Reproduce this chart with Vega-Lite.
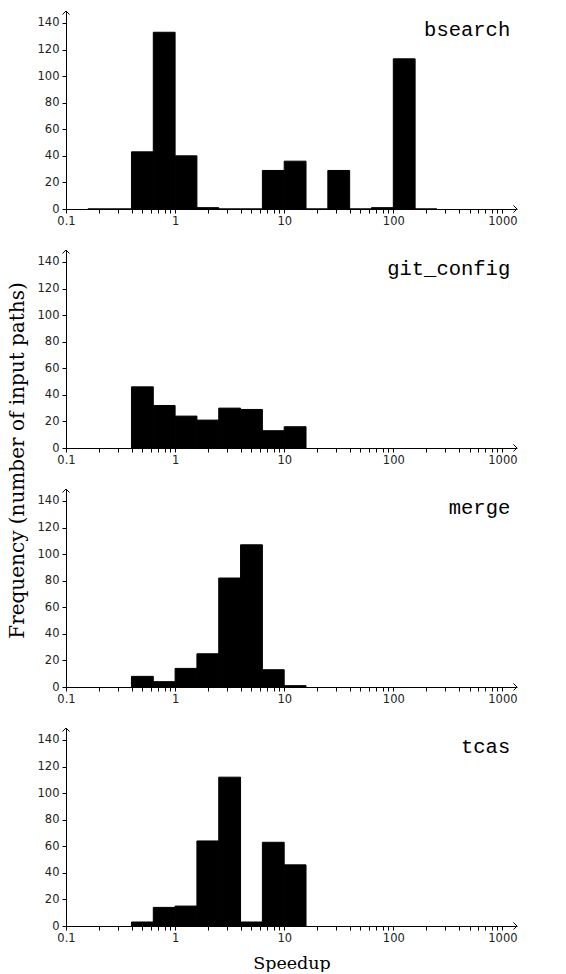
{
  "$schema": "https://vega.github.io/schema/vega-lite/v6.json",
  "padding": {"left": 8, "top": 9, "right": 0, "bottom": 0},
  "background": "white",
  "title": {"text": "Frequency (number of input paths)", "orient": "left", "anchor": "middle", "font": "DejaVu Serif", "fontSize": 20, "fontWeight": "normal", "color": "black", "offset": 9, "dx": 30},
  "datasets": {
    "hist": [
      {"prog": "bsearch", "lo": 0.1585, "hi": 0.2512, "count": 0},
      {"prog": "bsearch", "lo": 0.2512, "hi": 0.3981, "count": 0},
      {"prog": "bsearch", "lo": 0.3981, "hi": 0.631, "count": 43},
      {"prog": "bsearch", "lo": 0.631, "hi": 1, "count": 133},
      {"prog": "bsearch", "lo": 1, "hi": 1.5849, "count": 40},
      {"prog": "bsearch", "lo": 1.5849, "hi": 2.5119, "count": 1},
      {"prog": "bsearch", "lo": 2.5119, "hi": 3.9811, "count": 0},
      {"prog": "bsearch", "lo": 3.9811, "hi": 6.3096, "count": 0},
      {"prog": "bsearch", "lo": 6.3096, "hi": 10, "count": 29},
      {"prog": "bsearch", "lo": 10, "hi": 15.849, "count": 36},
      {"prog": "bsearch", "lo": 15.849, "hi": 25.119, "count": 0},
      {"prog": "bsearch", "lo": 25.119, "hi": 39.811, "count": 29},
      {"prog": "bsearch", "lo": 39.811, "hi": 63.096, "count": 0},
      {"prog": "bsearch", "lo": 63.096, "hi": 100, "count": 1},
      {"prog": "bsearch", "lo": 100, "hi": 158.49, "count": 113},
      {"prog": "bsearch", "lo": 158.49, "hi": 251.19, "count": 0},
      {"prog": "git_config", "lo": 0.3981, "hi": 0.631, "count": 46},
      {"prog": "git_config", "lo": 0.631, "hi": 1, "count": 32},
      {"prog": "git_config", "lo": 1, "hi": 1.5849, "count": 24},
      {"prog": "git_config", "lo": 1.5849, "hi": 2.5119, "count": 21},
      {"prog": "git_config", "lo": 2.5119, "hi": 3.9811, "count": 30},
      {"prog": "git_config", "lo": 3.9811, "hi": 6.3096, "count": 29},
      {"prog": "git_config", "lo": 6.3096, "hi": 10, "count": 13},
      {"prog": "git_config", "lo": 10, "hi": 15.849, "count": 16},
      {"prog": "merge", "lo": 0.3981, "hi": 0.631, "count": 8},
      {"prog": "merge", "lo": 0.631, "hi": 1, "count": 4},
      {"prog": "merge", "lo": 1, "hi": 1.5849, "count": 14},
      {"prog": "merge", "lo": 1.5849, "hi": 2.5119, "count": 25},
      {"prog": "merge", "lo": 2.5119, "hi": 3.9811, "count": 82},
      {"prog": "merge", "lo": 3.9811, "hi": 6.3096, "count": 107},
      {"prog": "merge", "lo": 6.3096, "hi": 10, "count": 13},
      {"prog": "merge", "lo": 10, "hi": 15.849, "count": 1},
      {"prog": "tcas", "lo": 0.3981, "hi": 0.631, "count": 3},
      {"prog": "tcas", "lo": 0.631, "hi": 1, "count": 14},
      {"prog": "tcas", "lo": 1, "hi": 1.5849, "count": 15},
      {"prog": "tcas", "lo": 1.5849, "hi": 2.5119, "count": 64},
      {"prog": "tcas", "lo": 2.5119, "hi": 3.9811, "count": 112},
      {"prog": "tcas", "lo": 3.9811, "hi": 6.3096, "count": 3},
      {"prog": "tcas", "lo": 6.3096, "hi": 10, "count": 63},
      {"prog": "tcas", "lo": 10, "hi": 15.849, "count": 46}
    ]
  },
  "spacing": 41,
  "bounds": "flush",
  "vconcat": [
    {
      "width": 451, "height": 198,
      "data": {"name": "hist"},
      "transform": [{"filter": "datum.prog === 'bsearch'"}],
      "layer": [
        {"mark": {"type": "rect", "color": "black", "stroke": "black", "strokeWidth": 1},
         "encoding": {
           "x": {"field": "lo", "type": "quantitative", "scale": {"type": "log", "domain": [0.1, 1361], "nice": false}, "axis": {"title": null}},
           "x2": {"field": "hi"},
           "y": {"field": "count", "type": "quantitative", "scale": {"domain": [0, 149], "nice": false}, "axis": {"title": null}},
           "y2": {"datum": 0}
         }},
        {"transform": [{"aggregate": [], "groupby": ["prog"]}],
         "mark": {"type": "text", "font": "Liberation Mono", "fontSize": 20.5, "align": "right", "baseline": "alphabetic", "color": "black"},
         "encoding": {"text": {"field": "prog"}, "x": {"datum": 1180}, "y": {"datum": 130}}},
        {"transform": [{"aggregate": [], "groupby": ["prog"]}],
         "mark": {"type": "point", "shape": "M-1,-1L0,0L-1,1", "filled": false, "stroke": "black", "strokeWidth": 1, "size": 50, "opacity": 1},
         "encoding": {"x": {"datum": 1361}, "y": {"datum": 0}}},
        {"transform": [{"aggregate": [], "groupby": ["prog"]}],
         "mark": {"type": "point", "shape": "M-1,1L0,0L1,1", "filled": false, "stroke": "black", "strokeWidth": 1, "size": 50, "opacity": 1},
         "encoding": {"x": {"datum": 0.1}, "y": {"datum": 149}}}
      ]
    },
    {
      "width": 451, "height": 198,
      "data": {"name": "hist"},
      "transform": [{"filter": "datum.prog === 'git_config'"}],
      "layer": [
        {"mark": {"type": "rect", "color": "black", "stroke": "black", "strokeWidth": 1},
         "encoding": {
           "x": {"field": "lo", "type": "quantitative", "scale": {"type": "log", "domain": [0.1, 1361], "nice": false}, "axis": {"title": null}},
           "x2": {"field": "hi"},
           "y": {"field": "count", "type": "quantitative", "scale": {"domain": [0, 149], "nice": false}, "axis": {"title": null}},
           "y2": {"datum": 0}
         }},
        {"transform": [{"aggregate": [], "groupby": ["prog"]}],
         "mark": {"type": "text", "font": "Liberation Mono", "fontSize": 20.5, "align": "right", "baseline": "alphabetic", "color": "black"},
         "encoding": {"text": {"field": "prog"}, "x": {"datum": 1180}, "y": {"datum": 130}}},
        {"transform": [{"aggregate": [], "groupby": ["prog"]}],
         "mark": {"type": "point", "shape": "M-1,-1L0,0L-1,1", "filled": false, "stroke": "black", "strokeWidth": 1, "size": 50, "opacity": 1},
         "encoding": {"x": {"datum": 1361}, "y": {"datum": 0}}},
        {"transform": [{"aggregate": [], "groupby": ["prog"]}],
         "mark": {"type": "point", "shape": "M-1,1L0,0L1,1", "filled": false, "stroke": "black", "strokeWidth": 1, "size": 50, "opacity": 1},
         "encoding": {"x": {"datum": 0.1}, "y": {"datum": 149}}}
      ]
    },
    {
      "width": 451, "height": 198,
      "data": {"name": "hist"},
      "transform": [{"filter": "datum.prog === 'merge'"}],
      "layer": [
        {"mark": {"type": "rect", "color": "black", "stroke": "black", "strokeWidth": 1},
         "encoding": {
           "x": {"field": "lo", "type": "quantitative", "scale": {"type": "log", "domain": [0.1, 1361], "nice": false}, "axis": {"title": null}},
           "x2": {"field": "hi"},
           "y": {"field": "count", "type": "quantitative", "scale": {"domain": [0, 149], "nice": false}, "axis": {"title": null}},
           "y2": {"datum": 0}
         }},
        {"transform": [{"aggregate": [], "groupby": ["prog"]}],
         "mark": {"type": "text", "font": "Liberation Mono", "fontSize": 20.5, "align": "right", "baseline": "alphabetic", "color": "black"},
         "encoding": {"text": {"field": "prog"}, "x": {"datum": 1180}, "y": {"datum": 130}}},
        {"transform": [{"aggregate": [], "groupby": ["prog"]}],
         "mark": {"type": "point", "shape": "M-1,-1L0,0L-1,1", "filled": false, "stroke": "black", "strokeWidth": 1, "size": 50, "opacity": 1},
         "encoding": {"x": {"datum": 1361}, "y": {"datum": 0}}},
        {"transform": [{"aggregate": [], "groupby": ["prog"]}],
         "mark": {"type": "point", "shape": "M-1,1L0,0L1,1", "filled": false, "stroke": "black", "strokeWidth": 1, "size": 50, "opacity": 1},
         "encoding": {"x": {"datum": 0.1}, "y": {"datum": 149}}}
      ]
    },
    {
      "width": 451, "height": 198,
      "data": {"name": "hist"},
      "transform": [{"filter": "datum.prog === 'tcas'"}],
      "layer": [
        {"mark": {"type": "rect", "color": "black", "stroke": "black", "strokeWidth": 1},
         "encoding": {
           "x": {"field": "lo", "type": "quantitative", "scale": {"type": "log", "domain": [0.1, 1361], "nice": false}, "axis": {"title": "Speedup", "titleFont": "DejaVu Serif", "titleFontSize": 17.5, "titleFontWeight": "normal", "titleColor": "black", "titlePadding": 11}},
           "x2": {"field": "hi"},
           "y": {"field": "count", "type": "quantitative", "scale": {"domain": [0, 149], "nice": false}, "axis": {"title": null}},
           "y2": {"datum": 0}
         }},
        {"transform": [{"aggregate": [], "groupby": ["prog"]}],
         "mark": {"type": "text", "font": "Liberation Mono", "fontSize": 20.5, "align": "right", "baseline": "alphabetic", "color": "black"},
         "encoding": {"text": {"field": "prog"}, "x": {"datum": 1180}, "y": {"datum": 130}}},
        {"transform": [{"aggregate": [], "groupby": ["prog"]}],
         "mark": {"type": "point", "shape": "M-1,-1L0,0L-1,1", "filled": false, "stroke": "black", "strokeWidth": 1, "size": 50, "opacity": 1},
         "encoding": {"x": {"datum": 1361}, "y": {"datum": 0}}},
        {"transform": [{"aggregate": [], "groupby": ["prog"]}],
         "mark": {"type": "point", "shape": "M-1,1L0,0L1,1", "filled": false, "stroke": "black", "strokeWidth": 1, "size": 50, "opacity": 1},
         "encoding": {"x": {"datum": 0.1}, "y": {"datum": 149}}}
      ]
    }
  ],
  "config": {
    "view": {"stroke": null},
    "axisX": {
      "values": [0.1, 0.2, 0.3, 0.4, 0.5, 0.6, 0.7, 0.8, 0.9, 1, 2, 3, 4, 5, 6, 7, 8, 9, 10, 20, 30, 40, 50, 60, 70, 80, 90, 100, 200, 300, 400, 500, 600, 700, 800, 900, 1000],
      "labelExpr": "indexof([0.1, 1, 10, 100, 1000], datum.value) >= 0 ? format(datum.value, '~g') : ''",
      "grid": false, "domainColor": "black", "domainWidth": 1, "tickColor": "black", "tickSize": 4, "tickWidth": 1,
      "labelFont": "DejaVu Sans", "labelFontSize": 11.5, "labelColor": "#222", "labelPadding": 2, "labelFlush": false, "labelOverlap": false, "labelBound": false
    },
    "axisY": {
      "values": [0, 10, 20, 30, 40, 50, 60, 70, 80, 90, 100, 110, 120, 130, 140],
      "labelExpr": "datum.value % 20 === 0 ? datum.label : ''",
      "grid": false, "domainColor": "black", "domainWidth": 1, "tickColor": "black", "tickSize": 4, "tickWidth": 1,
      "labelFont": "DejaVu Sans", "labelFontSize": 11.5, "labelColor": "#222", "labelPadding": 3, "labelOverlap": false
    }
  }
}
